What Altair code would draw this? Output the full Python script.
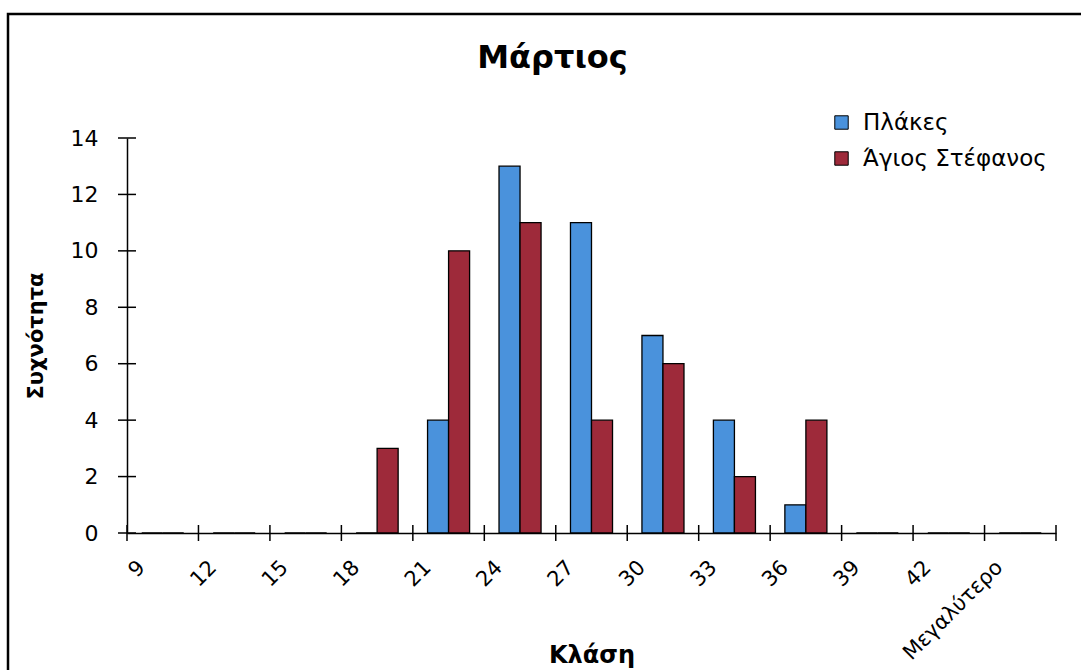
import altair as alt
import pandas as pd

categories = ["9", "12", "15", "18", "21", "24", "27", "30", "33", "36", "39", "42", "Μεγαλύτερο"]
series_names = ["Πλάκες", "Άγιος Στέφανος"]
plakes = [0, 0, 0, 0, 4, 13, 11, 7, 4, 1, 0, 0, 0]
agios = [0, 0, 0, 3, 10, 11, 4, 6, 2, 4, 0, 0, 0]
y_ticks = [0, 2, 4, 6, 8, 10, 12, 14]
colors = ["#4A92DC", "#9E2A3A"]

W, H = 929, 395
FONT = "DejaVu Sans"
STEP = W / len(categories)

rows = []
for c, a, b in zip(categories, plakes, agios):
    rows.append({"cat": c, "series": series_names[0], "value": a})
    rows.append({"cat": c, "series": series_names[1], "value": b})
df = pd.DataFrame(rows)
cat_df = pd.DataFrame({"cat": categories})
last_df = pd.DataFrame({"cat": categories[-1:]})
yt_df = pd.DataFrame({"v": y_ticks})

xscale = alt.Scale(domain=categories, paddingInner=0, paddingOuter=0)
yscale = alt.Scale(domain=[0, 14], nice=False)

xaxis = alt.Axis(title="Κλάση", labelAngle=-45, labelAlign="right",
                 labelBaseline="middle", labelOffset=15 - STEP / 2, labelPadding=31,
                 labelFont=FONT, labelFontSize=21, titleFont=FONT, titleFontSize=24,
                 titleFontWeight="bold", titleY=122, titleBaseline="middle",
                 ticks=False, tickSize=0)
yaxis = alt.Axis(title="Συχνότητα", values=y_ticks, labelFont=FONT, labelFontSize=22,
                 labelPadding=29, titleFont=FONT, titleFontSize=21, titleFontWeight="bold",
                 titlePadding=24, ticks=False, tickSize=0)

bars = alt.Chart(df).mark_bar(stroke="black", strokeWidth=1.3).encode(
    x=alt.X("cat:N", sort=categories, scale=xscale, axis=xaxis),
    xOffset=alt.XOffset("series:N", sort=series_names,
                        scale=alt.Scale(domain=series_names, paddingInner=0, paddingOuter=0.7)),
    y=alt.Y("value:Q", scale=yscale, axis=yaxis),
    color=alt.Color("series:N", sort=series_names,
                    scale=alt.Scale(domain=series_names, range=colors),
                    legend=alt.Legend(title=None, orient="none", legendX=703, legendY=-27,
                                      symbolType="square", symbolSize=180,
                                      symbolStrokeColor="black", symbolStrokeWidth=1,
                                      labelFont=FONT, labelFontSize=23, labelColor="black",
                                      labelLimit=400, rowPadding=12, labelOffset=10)),
)

xt = alt.Chart(cat_df).mark_rule(color="black", strokeWidth=1.5).encode(
    x=alt.X("cat:N", sort=categories, scale=xscale, bandPosition=0, axis=xaxis),
    y=alt.value(H - 8), y2=alt.value(H + 8),
)
xt_end = alt.Chart(last_df).mark_rule(color="black", strokeWidth=1.5).encode(
    x=alt.X("cat:N", sort=categories, scale=xscale, bandPosition=1, axis=xaxis),
    y=alt.value(H - 8), y2=alt.value(H + 8),
)
yt = alt.Chart(yt_df).mark_rule(color="black", strokeWidth=1.5).encode(
    y=alt.Y("v:Q", scale=yscale, axis=yaxis),
    x=alt.value(-9), x2=alt.value(9),
)
frame = alt.Chart(pd.DataFrame({"k": [0]})).mark_rect(
    fill="transparent", stroke="black", strokeWidth=2.5
).encode(
    x=alt.value(-119), x2=alt.value(1100), y=alt.value(-124), y2=alt.value(700),
)

chart = alt.layer(frame, bars, xt, xt_end, yt).properties(
    width=W, height=H,
    title=alt.Title("Μάρτιος", font=FONT, fontSize=32, fontWeight="bold", color="black",
                    anchor="middle", dx=-39, offset=0, dy=62),
    autosize=alt.AutoSizeParams(type="none"),
    padding={"left": 127, "top": 138, "right": 25, "bottom": 137},
    background="white",
).configure_view(stroke=None).configure_axis(
    domainColor="black", domainWidth=1.5, grid=False, labelColor="black", titleColor="black"
)

chart.save("out.html", embed_options={"renderer": "svg", "actions": False})
